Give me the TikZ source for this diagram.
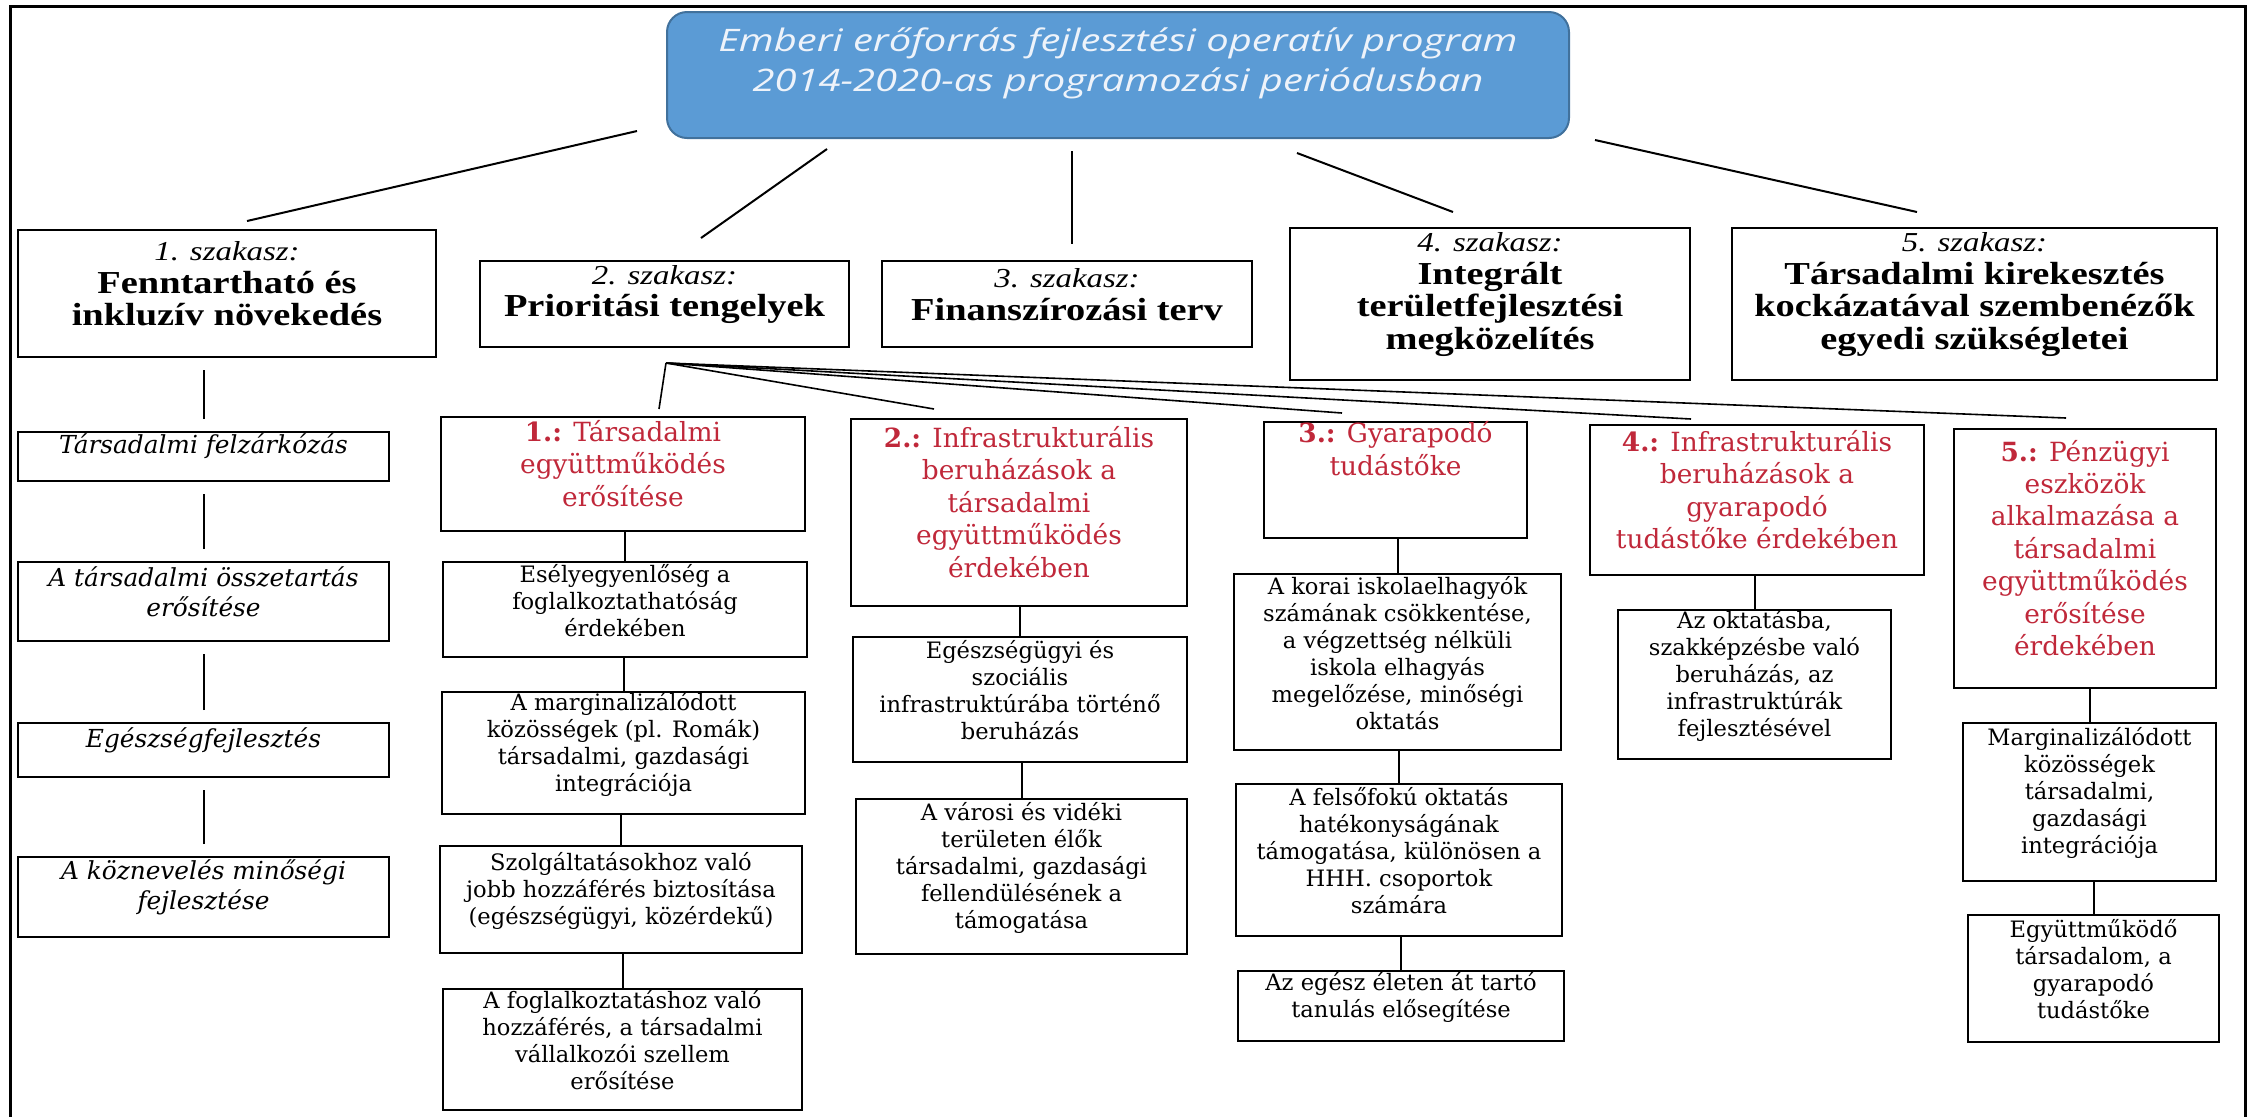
\documentclass[tikz,border=0pt]{standalone}
\usepackage{fontspec}
\setmainfont{Liberation Serif}
\newfontfamily\topfont[FakeStretch=1.2]{Liberation Serif}
\newfontfamily\bodyfont{DejaVu Serif}
\newfontfamily\titlefont[FakeStretch=1.29]{Open Sans}
\usetikzlibrary{fit,calc}
\definecolor{titlefill}{HTML}{5B9BD5}
\definecolor{titledraw}{HTML}{41719C}
\definecolor{titletext}{HTML}{EEF3FA}
\definecolor{redtxt}{HTML}{C0283A}
\newcommand\szk[1]{{\fontsize{13.7}{16.3}\selectfont\mdseries\itshape #1}}
\begin{document}
\begin{tikzpicture}[x=0.5pt,y=-0.5pt,
  topbox/.style={draw, line width=1pt, inner sep=0pt, align=center, font=\topfont\bfseries\fontsize{16}{16.3}\selectfont},
  redbox/.style={draw, line width=1pt, inner sep=0pt, align=center, text=redtxt, font=\bodyfont\fontsize{13.2}{16.2}\selectfont},
  subbox/.style={draw, line width=1pt, inner sep=0pt, align=center, font=\bodyfont\fontsize{11.3}{13.5}\selectfont},
  leftbox/.style={draw, line width=1pt, inner sep=0pt, align=center, font=\bodyfont\itshape\fontsize{12.4}{15}\selectfont},
  conn/.style={line width=1pt},
  fanline/.style={line width=0.8pt},
  gap/.style={shorten <=6pt, shorten >=6pt}]
\useasboundingbox (0,0) rectangle (2249,1116);
% frame
\draw[line width=1.5pt] (10,1125) -- (10,6) -- (2245,6) -- (2245,1125);
% title
\node[fit={(667,12)(1569,138)}, inner sep=0pt, rounded corners=10pt, fill=titlefill, draw=titledraw, line width=1pt, align=center, text=titletext, font=\titlefont\itshape\fontsize{15.5}{20}\selectfont] (T) {\rule{0pt}{20pt}Emberi erőforrás fejlesztési operatív program\\2014-2020-as programozási periódusban};
% top row
\node[topbox, fit={(18,230)(436,357)}] (B1) {\szk{1. szakasz:}\\Fenntartható és\\inkluzív növekedés};
\node[topbox, fit={(480,261)(849,347)}] (B2) {\szk{2. szakasz:}\\Prioritási tengelyek};
\node[topbox, fit={(882,261)(1252,347)}] (B3) {\szk{3. szakasz:}\\Finanszírozási terv};
\node[topbox, fit={(1290,228)(1690,380)}] (B4) {\szk{4. szakasz:}\\Integrált\\területfejlesztési\\megközelítés};
\node[topbox, fit={(1732,228)(2217,380)}] (B5) {\szk{5. szakasz:}\\Társadalmi kirekesztés\\kockázatával szembenézők\\egyedi szükségletei};
% title connectors
\draw[conn] ([shift={(-29,-8)}]T.south west) -- ([shift={(20,-8)}]B1.north);
\draw[conn] ([shift={(161,10)}]T.south west) -- ([shift={(36.5,-22)}]B2.north);
\draw[conn] ([shift={(-46,12)}]T.south) -- ([shift={(5,-16)}]B3.north);
\draw[conn] ([shift={(-273,14)}]T.south east) -- ([shift={(-37,-15)}]B4.north);
\draw[conn] ([shift={(25,1)}]T.south east) -- ([shift={(-57.5,-15)}]B5.north);
% left column
\node[leftbox, fit={(18,432)(389,481)}] (La) {Társadalmi felzárkózás\hspace*{13pt}};
\node[leftbox, fit={(18,562)(389,641)}] (Lb) {A társadalmi összetartás\\erősítése};
\node[leftbox, fit={(18,723)(389,777)}] (Lc) {Egészségfejlesztés};
\node[leftbox, fit={(18,857)(389,937)}] (Ld) {A köznevelés minőségi\\fejlesztése};
\draw[conn, gap] (La.north) -- (La.north |- B1.south);
\draw[conn, gap] (Lb.north) -- (Lb.north |- La.south);
\draw[conn, gap] (Lc.north) -- (Lc.north |- Lb.south);
\draw[conn, gap] (Ld.north) -- (Ld.north |- Lc.south);
% priority axes
\node[redbox, fit={(441,417)(805,531)}] (R1) {\textbf{1.:} Társadalmi\\együttműködés\\erősítése};
\node[redbox, fit={(851,419)(1187,606)}] (R2) {\textbf{2.:} Infrastrukturális\\beruházások a\\társadalmi\\együttműködés\\érdekében};
\node[redbox, fit={(1264,422)(1527,538)}] (R3) {\textbf{3.:} Gyarapodó\\tudástőke\\\strut};
\node[redbox, fit={(1590,425)(1924,575)}] (R4) {\textbf{4.:} Infrastrukturális\\beruházások a\\gyarapodó\\tudástőke érdekében};
\node[redbox, fit={(1954,429)(2216,688)}] (R5) {\textbf{5.:} Pénzügyi\\eszközök\\alkalmazása a\\társadalmi\\együttműködés\\erősítése\\érdekében};
% fan
\coordinate (fan) at ([shift={(1.5,15)}]B2.south);
\draw[fanline] (fan) -- ([shift={(36,-7)}]R1.north);
\draw[fanline] (fan) -- ([shift={(-85,-9)}]R2.north);
\draw[fanline] (fan) -- ([shift={(-53.5,-8)}]R3.north);
\draw[fanline] (fan) -- ([shift={(-66,-5)}]R4.north);
\draw[fanline] (fan) -- ([shift={(-19,-10)}]R5.north);
% column 1
\node[subbox, fit={(443,562)(807,657)}] (C1a) {Esélyegyenlőség a\\foglalkoztathatóság\\érdekében};
\node[subbox, fit={(442,692)(805,814)}] (C1b) {A marginalizálódott\\közösségek (pl. Romák)\\társadalmi, gazdasági\\integrációja};
\node[subbox, fit={(440,846)(802,953)}] (C1c) {Szolgáltatásokhoz való\\jobb hozzáférés biztosítása\\(egészségügyi, közérdekű)};
\node[subbox, fit={(443,989)(802,1110)}] (C1d) {A foglalkoztatáshoz való\\hozzáférés, a társadalmi\\vállalkozói szellem\\erősítése};
\draw[conn] (C1a.north) -- (C1a.north |- R1.south);
\draw[conn] (C1b.north) -- (C1b.north |- C1a.south);
\draw[conn] (C1c.north) -- (C1c.north |- C1b.south);
\draw[conn] (C1d.north) -- (C1d.north |- C1c.south);
% column 2
\node[subbox, fit={(853,637)(1187,762)}] (C2a) {Egészségügyi és\\szociális\\infrastruktúrába történő\\beruházás};
\node[subbox, fit={(856,799)(1187,954)}] (C2b) {A városi és vidéki\\területen élők\\társadalmi, gazdasági\\fellendülésének a\\támogatása};
\draw[conn] (C2a.north) -- (C2a.north |- R2.south);
\draw[conn] (C2b.north) -- (C2b.north |- C2a.south);
% column 3
\node[subbox, fit={(1234,574)(1561,750)}] (C3a) {A korai iskolaelhagyók\\számának csökkentése,\\a végzettség nélküli\\iskola elhagyás\\megelőzése, minőségi\\oktatás};
\node[subbox, fit={(1236,784)(1562,936)}] (C3b) {A felsőfokú oktatás\\hatékonyságának\\támogatása, különösen a\\HHH. csoportok\\számára};
\node[subbox, fit={(1238,971)(1564,1041)}] (C3c) {Az egész életen át tartó\\tanulás elősegítése};
\draw[conn] (C3a.north) -- (C3a.north |- R3.south);
\draw[conn] (C3b.north) -- (C3b.north |- C3a.south);
\draw[conn] (C3c.north) -- (C3c.north |- C3b.south);
% column 4
\node[subbox, fit={(1618,610)(1891,759)}] (C4a) {Az oktatásba,\\szakképzésbe való\\beruházás, az\\infrastruktúrák\\fejlesztésével};
\draw[conn] (C4a.north) -- (C4a.north |- R4.south);
% column 5
\node[subbox, fit={(1963,723)(2216,881)}] (C5a) {Marginalizálódott\\közösségek\\társadalmi,\\gazdasági\\integrációja};
\node[subbox, fit={(1968,915)(2219,1042)}] (C5b) {Együttműködő\\társadalom, a\\gyarapodó\\tudástőke};
\draw[conn] (C5a.north) -- (C5a.north |- R5.south);
\draw[conn] (C5b.north) -- (C5b.north |- C5a.south);
\end{tikzpicture}
\end{document}
